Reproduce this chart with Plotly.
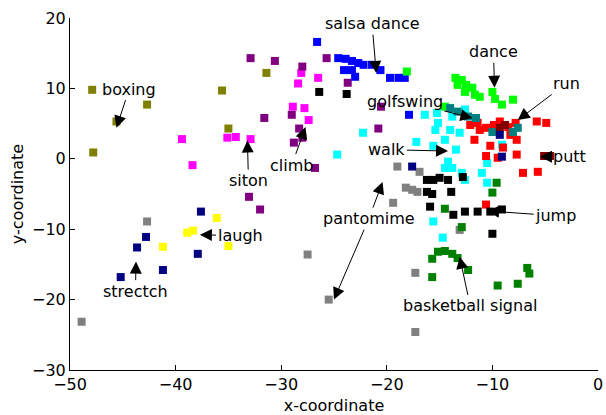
import plotly.graph_objects as go

# ---- data ----
boxing_x = [-47.9, -45.6, -42.7, -47.8, -35.6, -35.0, -31.4]
boxing_y = [9.8, 5.3, 7.7, 0.9, 9.7, 4.3, 12.2]

siton_x = [-39.4, -38.4, -35.1, -34.3, -32.9, -28.1, -26.5, -28.4, -28.9, -27.8, -27.4]
siton_y = [2.8, -0.9, 3.0, 3.1, 2.8, 12.2, 11.5, 10.7, 7.4, 7.2, 5.5]

climb_x = [-32.9, -30.6, -28.0, -25.7, -23.7, -31.6, -29.0, -28.3, -28.8, -28.0, -26.8, -33.05, -32.0, -20.55, -20.8]
climb_y = [14.3, 13.9, 13.1, 14.3, 10.8, 5.8, 6.25, 4.3, 2.3, 3.0, -1.3, -5.4, -7.2, 7.4, 4.3]

salsa_x = [-26.6, -24.6, -23.9, -23.3, -22.7, -22.2, -21.4, -24.05, -23.3, -23.0, -20.6, -19.7, -18.9, -18.3, -17.9]
salsa_y = [16.6, 14.3, 14.2, 13.9, 13.6, 13.35, 13.35, 12.6, 12.6, 11.65, 12.6, 11.5, 11.5, 11.5, 6.25]

dance_x = [-18.1, -13.5, -12.9, -12.5, -11.9, -12.6, -11.65, -11.2, -10.0, -9.75, -9.1, -8.05, -14.5, -13.3]
dance_y = [12.4, 11.5, 11.2, 10.5, 10.1, 9.5, 9.1, 8.8, 9.5, 8.5, 7.7, 8.4, 7.4, 10.5]

walk_x = [-24.7, -22.25, -17.2, -16.4, -15.25, -15.15, -15.4, -14.5, -15.6, -13.8, -14.0, -13.1, -12.6,
          -14.2, -13.8, -12.9, -12.6, -14.5, -11.0, -10.5, -10.5, -9.1, -15.6, -14.7, -13.45]
walk_y = [0.6, 3.7, 2.4, 6.25, 6.5, 5.1, 4.1, 2.7, 1.85, 6.0, 4.1, 3.7, 7.0,
          -0.4, -1.3, -2.0, -3.0, -1.3, -2.0, -3.4, -0.6, 2.0, -8.9, -11.2, 1.3]

run_x = [-12.1, -11.4, -10.6, -9.85, -9.3, -8.5, -7.8, -5.8, -4.9, -11.7, -7.7, -10.2, -9.0, -10.6,
         -9.5, -7.7, -7.1, -5.7, -10.6, -11.2, -8.3]
run_y = [4.8, 5.1, 4.4, 4.8, 5.3, 4.5, 5.1, 5.3, 5.1, 2.7, 2.7, 1.85, 1.6, 0.4,
         0.15, 0.6, -2.0, -1.85, -6.5, 4.1, 3.4]

golf_x = [-14.0, -13.3, -12.3, -11.55, -10.0, -8.05, -7.6]
golf_y = [7.2, 6.7, 6.0, 5.8, 3.8, 3.8, 4.4]

putt_x = [-5.1, -4.55, -9.3, -8.8]
putt_y = [0.4, 0.4, 4.4, 4.8]

jump_x = [-16.2, -15.6, -15.0, -14.2, -12.8, -16.2, -15.7, -13.9, -15.9, -13.7, -12.6, -11.4, -10.2,
          -9.1, -10.0, -26.4, -23.8]
jump_y = [-3.0, -3.0, -2.7, -3.0, -2.6, -4.7, -5.0, -4.7, -6.8, -7.95, -7.5, -7.5, -7.5,
          -7.2, -10.65, 9.5, 9.2]

panto_x = [-42.7, -48.9, -27.5, -25.5, -19.4, -19.0, -18.2, -17.6, -17.1, -16.9, -17.3, -17.3, -13.1]
panto_y = [-8.9, -23.15, -13.6, -20.0, -6.25, -1.1, -4.1, -4.4, -4.7, -1.85, -16.2, -24.6, -10.1]

basket_x = [-14.5, -12.9, -15.7, -15.15, -14.5, -13.8, -13.3, -12.3, -15.7, -9.5, -7.6, -6.7, -6.5, -10.0, -9.6]
basket_y = [-7.1, -9.7, -14.2, -13.2, -13.1, -13.5, -14.1, -15.8, -16.8, -18.0, -17.75, -15.5, -16.3, -4.8, -3.4]

laugh_x = [-41.2, -38.9, -38.35, -36.1, -35.0]
laugh_y = [-12.5, -10.5, -10.2, -8.4, -12.4]

stretch_x = [-42.8, -43.65, -41.2, -45.2, -37.6, -37.9, -17.6, -9.3, -9.1]
stretch_y = [-11.1, -12.6, -15.8, -16.8, -7.5, -13.5, -1.1, 3.4, 0.3]

x_ticks = [-50, -40, -30, -20, -10, 0]
y_ticks = [-30, -20, -10, 0, 10, 20]

# label, text position (x, y), arrow tip (x, y)
labels = [
    ("boxing", -44.4, 9.9, -45.6, 4.4),
    ("salsa dance", -21.4, 19.2, -21.0, 12.2),
    ("dance", -9.9, 15.2, -9.8, 10.1),
    ("run", -3.0, 10.7, -7.6, 5.5),
    ("golfswing", -18.3, 8.2, -11.9, 5.8),
    ("walk", -20.0, 1.3, -14.2, 1.1),
    ("putt", -2.7, 0.3, -5.5, 0.3),
    ("jump", -4.0, -8.1, -10.5, -7.4),
    ("pantomime", -21.7, -8.5, -20.4, -3.3),
    ("pantomime", -21.7, -8.5, -25.0, -20.0),
    ("basketball signal", -12.1, -20.9, -13.1, -13.9),
    ("laugh", -33.9, -10.9, -37.7, -10.8),
    ("strectch", -43.8, -18.8, -43.75, -14.6),
    ("siton", -33.1, -3.1, -33.2, 2.6),
    ("climb", -29.0, -0.9, -27.7, 4.5),
]

series = [
    (boxing_x, boxing_y, "#808000"),
    (siton_x, siton_y, "#ff00ff"),
    (climb_x, climb_y, "#800080"),
    (salsa_x, salsa_y, "#0000ff"),
    (dance_x, dance_y, "#00ff00"),
    (walk_x, walk_y, "#00ffff"),
    (run_x, run_y, "#ff0000"),
    (golf_x, golf_y, "#008080"),
    (putt_x, putt_y, "#800000"),
    (jump_x, jump_y, "#000000"),
    (panto_x, panto_y, "#808080"),
    (basket_x, basket_y, "#008000"),
    (laugh_x, laugh_y, "#ffff00"),
    (stretch_x, stretch_y, "#000080"),
]

FONT = "DejaVu Sans"

fig = go.Figure()
for xs, ys, c in series:
    fig.add_trace(go.Scatter(
        x=xs, y=ys, mode="markers",
        marker=dict(symbol="square", size=8, color=c, line=dict(width=0)),
        showlegend=False, hoverinfo="skip",
    ))

seen = set()
for txt, tx, ty, hx, hy in labels:
    dup = txt in seen
    seen.add(txt)
    fig.add_annotation(
        x=hx, y=hy, ax=tx, ay=ty, xref="x", yref="y", axref="x", ayref="y",
        text=txt, showarrow=True, arrowhead=2, arrowsize=2.4, arrowwidth=1,
        arrowcolor="black", standoff=0,
        font=dict(family=FONT, size=16, color="rgba(0,0,0,0)" if dup else "black"),
    )

axis_common = dict(
    showline=True, linecolor="black", linewidth=1, mirror=False,
    ticks="inside", ticklen=5, tickcolor="black", tickwidth=1,
    showgrid=False, zeroline=False, automargin=False,
    tickfont=dict(family=FONT, size=16, color="black"),
)

fig.update_layout(
    width=606, height=415,
    margin=dict(l=70, r=8, t=18, b=45),
    paper_bgcolor="white", plot_bgcolor="white",
    font=dict(family=FONT, size=16, color="black"),
    xaxis=dict(range=[-50, 0], tickvals=x_ticks,
               title=dict(text="x-coordinate", font=dict(family=FONT, size=16), standoff=8),
               **axis_common),
    yaxis=dict(range=[-30, 20], tickvals=y_ticks,
               title=dict(text="y-coordinate", font=dict(family=FONT, size=16), standoff=4),
               **axis_common),
)

fig.write_html("out.html", config={"displayModeBar": False},
               post_script="document.body.style.margin='0px';document.body.style.overflow='hidden';")
